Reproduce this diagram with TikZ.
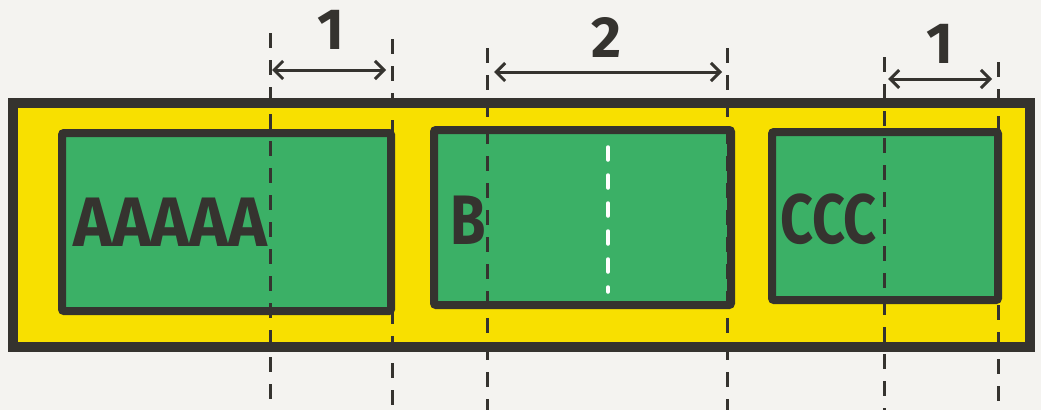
\documentclass[tikz,border=0pt]{standalone}
\usepackage{fontspec}
\setmainfont{Fira Sans}
\usetikzlibrary{arrows.meta, positioning}
\definecolor{ink}{HTML}{35332F}
\definecolor{paper}{HTML}{F4F3F0}
\definecolor{lemon}{HTML}{F8E000}
\definecolor{leaf}{HTML}{3BB066}

\begin{document}
\begin{tikzpicture}[x=1pt, y=-1pt,
    box/.style={rectangle, draw=ink, fill=leaf, line width=8pt, rounded corners=2pt, inner sep=0pt},
    guide/.style={ink, line width=3pt, dash pattern=on 15pt off 12pt},
    span/.style={ink, line width=3pt, {Straight Barb[length=9pt,width=18pt]}-{Straight Barb[length=9pt,width=18pt]}},
    lbl/.style={text=ink, inner sep=0pt, font=\fontsize{58}{58}\selectfont\bfseries},
    word/.style={text=ink, inner sep=0pt, anchor=west, font=\fontsize{70}{70}\selectfont\bfseries}]
        \fill[paper] (0,0) rectangle (1041,410);
        \useasboundingbox (0,0) rectangle (1041,410);

        % container and items
        \node[rectangle, draw=ink, fill=lemon, line width=10pt, inner sep=0pt,
            minimum width=1017pt, minimum height=244pt] (frame) at (521.5,225) {};
        \node[box, minimum width=329pt, minimum height=178pt] (boxA) at (226.5,222) {};
        \node[box, minimum width=297pt, minimum height=175pt] (boxB) at (582.5,217.5) {};
        \node[box, minimum width=226pt, minimum height=168pt] (boxC) at (885,216) {};

        \coordinate (midT) at (608,147);
        \coordinate (midB) at (608,292);
        \draw[white, line width=3.5pt, line cap=round, dash pattern=on 13pt off 15pt] (midT) -- (midB);

        % guide lines
        \coordinate (g1t) at (270,33);  \coordinate (g1b) at (270,410);
        \coordinate (g2t) at (392,39);  \coordinate (g2b) at (392,410);
        \coordinate (g3t) at (487,48);  \coordinate (g3b) at (487,410);
        \coordinate (g4t) at (727,48);  \coordinate (g4b) at (727,410);
        \coordinate (g5t) at (884,57);  \coordinate (g5b) at (884,410);
        \coordinate (g6t) at (998,62);  \coordinate (g6b) at (998,410);
        \draw[guide] (g1t) -- (g1b)
            (g2t) -- (g2b)
            (g3t) -- (g3b)
            (g4t) -- (g4b)
            (g5t) -- (g5b)
            (g6t) -- (g6b);

        % distances
        \coordinate (a1l) at (272,70);  \coordinate (a1r) at (386,70);
        \coordinate (a2l) at (494,72);  \coordinate (a2r) at (722,72);
        \coordinate (a3l) at (888,79);  \coordinate (a3r) at (992,79);
        \draw[span] (a1l) -- (a1r);
        \draw[span] (a2l) -- (a2r);
        \draw[span] (a3l) -- (a3r);
        \node[lbl] (one) at (331,30) {1};
        \node[lbl] (two) at (606,37) {2};
        \node[lbl] (oneC) at (940,44) {1};

        \node[word] (txtA) at (73,222) {\scalebox{0.94}[1]{AAAAA}};
        \node[word] (txtB) at (450,220) {\scalebox{0.82}[1]{B}};
        \node[word] (txtC) at (780,219) {\scalebox{0.82}[1]{CCC}};
    \end{tikzpicture}
\end{document}
